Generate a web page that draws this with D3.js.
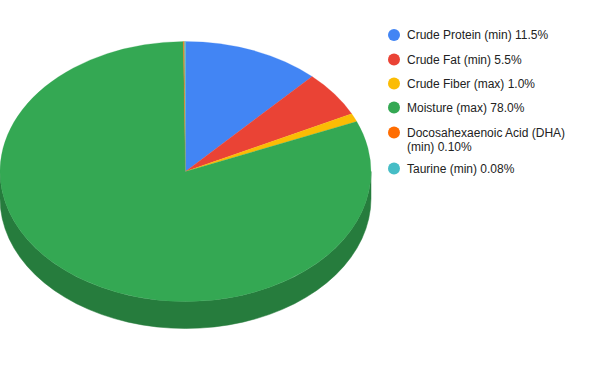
<!DOCTYPE html>
<html>
<head>
<meta charset="utf-8">
<script src="https://cdn.jsdelivr.net/npm/d3@7"></script>
<style>
  body { margin: 0; background: #fff; }
  text { font-family: "Liberation Sans", Arial, sans-serif; }
</style>
</head>
<body>
<div class="chart"></div>
<script>
var labels = [
  "Crude Protein (min) 11.5%",
  "Crude Fat (min) 5.5%",
  "Crude Fiber (max) 1.0%",
  "Moisture (max) 78.0%",
  "Docosahexaenoic Acid (DHA) (min) 0.10%",
  "Taurine (min) 0.08%"
];
var values = [11.5, 5.5, 1.0, 78.0, 0.10, 0.08];
var colors = ["#4285f4", "#ea4335", "#fbbc04", "#34a853", "#ff6d01", "#46bdc6"];

var width = 600;
var height = 371;
var cx = 185.5, cy = 171.5;
var rx = 185.5, ry = 130;
var depth = 27;

var svg = d3.select(".chart").append("svg")
  .attr("width", width)
  .attr("height", height);

var pie = d3.pie().sort(null).value(d => d)(values);

function darker(c) {
  var r = d3.rgb(c);
  return d3.rgb(r.r * 0.73, r.g * 0.74, r.b * 0.74).toString();
}

function pt(a, dy) {
  return [cx + rx * Math.sin(a), cy - ry * Math.cos(a) + (dy || 0)];
}

// side walls (front half only: angles between PI/2 and 3PI/2)
var sides = svg.append("g");
pie.forEach(function (d, i) {
  var a0 = Math.max(d.startAngle, Math.PI / 2);
  var a1 = Math.min(d.endAngle, Math.PI * 3 / 2);
  if (a1 <= a0) return;
  var n = 40, pts = [];
  for (var k = 0; k <= n; k++) pts.push(pt(a0 + (a1 - a0) * k / n, 0));
  for (var k = n; k >= 0; k--) pts.push(pt(a0 + (a1 - a0) * k / n, depth));
  sides.append("path")
    .attr("d", d3.line()(pts) + "Z")
    .attr("fill", darker(colors[i]))
    .attr("stroke", darker(colors[i]))
    .attr("stroke-width", 0.5);
});

// top face
var arc = d3.arc().innerRadius(0).outerRadius(rx);
var topFace = svg.append("g")
  .attr("transform", "translate(" + cx + "," + cy + ") scale(1," + (ry / rx) + ")");
topFace.selectAll("path")
  .data(pie)
  .enter()
  .append("path")
  .attr("d", arc)
  .attr("fill", (d, i) => colors[i])
  .attr("stroke", (d, i) => colors[i])
  .attr("stroke-width", 0.3);

// legend
var legendY = [35, 59.5, 83.5, 107.5, 132.5, 168.5];
var legend = svg.append("g");
labels.forEach(function (l, i) {
  var g = legend.append("g");
  g.append("circle")
    .attr("cx", 394)
    .attr("cy", legendY[i])
    .attr("r", 6)
    .attr("fill", colors[i]);
  var t = g.append("text")
    .attr("x", 407)
    .attr("y", legendY[i] + 4)
    .style("font-size", "12px")
    .attr("fill", "#222");
  if (i == 4) {
    t.append("tspan").attr("x", 407).text("Docosahexaenoic Acid (DHA)");
    t.append("tspan").attr("x", 407).attr("dy", 14).text("(min) 0.10%");
  } else {
    t.text(l);
  }
});
</script>
</body>
</html>
